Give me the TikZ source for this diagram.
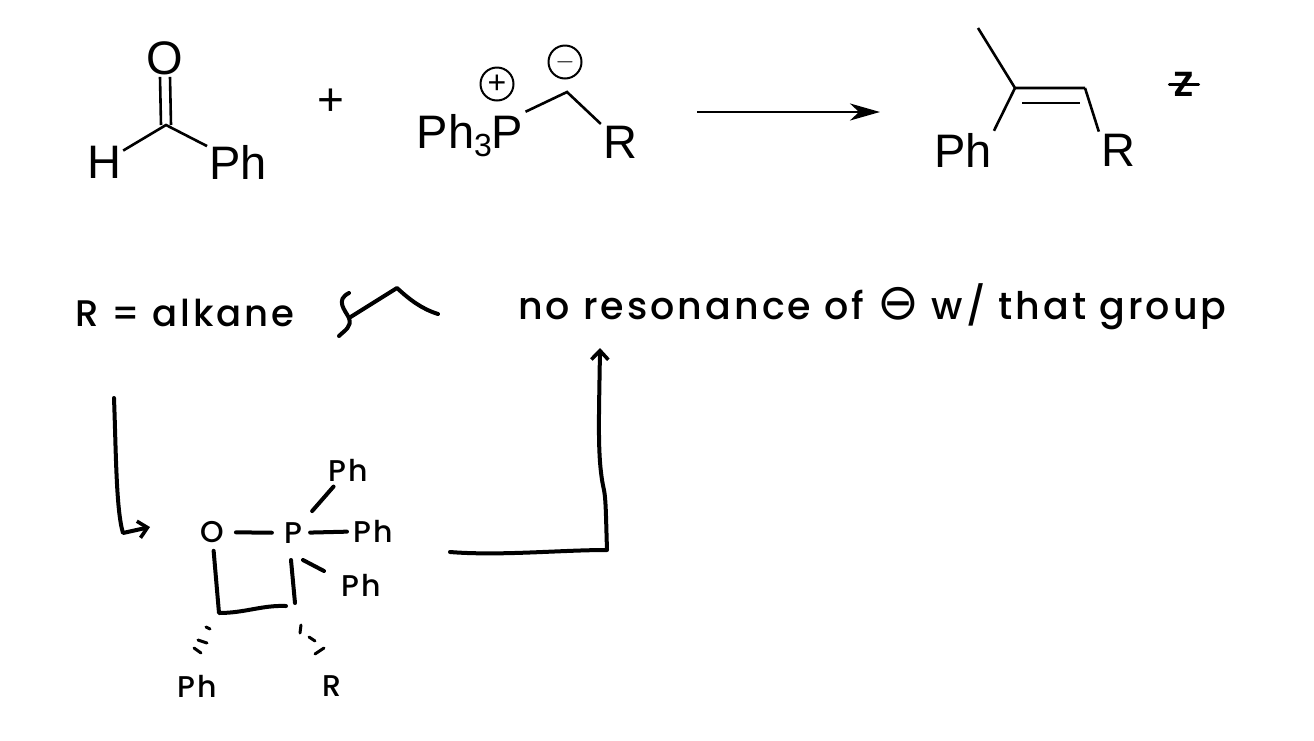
\documentclass[tikz,border=0pt]{standalone}
\usepackage{fontspec}
\setmainfont{Liberation Sans}
\newfontfamily\handfont[LetterSpace=8]{Poppins Medium}
\newfontfamily\handsym{DejaVu Sans}
\usetikzlibrary{positioning,arrows.meta}

\begin{document}
\begin{tikzpicture}[x=1pt, y=-1pt,
    chem atom/.style={inner sep=2pt, font=\fontsize{47}{50}\selectfont},
    bond/.style={draw, line width=2.6pt},
    charge/.style={draw, circle, line width=2pt, minimum size=33pt, inner sep=0pt, font=\fontsize{32}{34}\selectfont},
    hand text/.style={inner sep=0pt, anchor=base west, font=\handfont\fontsize{37}{40}\selectfont},
    hand small/.style={inner sep=3pt, font=\handfont\fontsize{30}{32}\selectfont},
    hand line/.style={draw, line width=4pt, line cap=round, line join=round},
    hand arrow/.style={hand line, -{Straight Barb[length=9pt, width=17pt, line width=3.6pt]}}]
    \useasboundingbox (0,0) rectangle (1314,740);

    \node[chem atom] (oxy) at (165,58) {O};
    \coordinate (cho) at (166,125);
    \node[chem atom] (hyd) at (104,162) {H};
    \node[chem atom] (phone) at (238,162) {Ph};
    \draw[bond] ([xshift=-5pt]oxy.south) -- ([xshift=-5pt]cho);
    \draw[bond] ([xshift=5pt]oxy.south) -- ([xshift=5pt]cho);
    \draw[bond] (hyd) -- (cho) -- (phone);
    \node[font=\fontsize{46}{48}\selectfont, inner sep=0pt] (plus) at (331,102) {+};

    \node[chem atom, anchor=base] (ylide) at (470,148) {Ph\raisebox{-8pt}{\fontsize{32}{34}\selectfont 3}P};
    \node[charge] (pos) at (497,84) {+};
    \node[charge] (neg) at (565,62) {$-$};
    \coordinate (cyl) at (567,92);
    \node[chem atom] (rone) at (620,142) {R};
    \draw[bond] (ylide.north east) -- (cyl) -- (rone);

    \coordinate (start) at (697,112);
    \coordinate (end) at (880,112);
    \draw[bond, -{Stealth[length=30pt, width=17pt, inset=9pt]}] (start) -- (end);

    \coordinate (cone) at (1015,88);
    \coordinate (ctwo) at (1085,88);
    \coordinate (methyl) at (978,28);
    \coordinate (inl) at (1022,103);
    \coordinate (inr) at (1080,103);
    \node[chem atom] (phtwo) at (963,150) {Ph};
    \node[chem atom] (rtwo) at (1118,150) {R};
    \draw[bond] (methyl) -- (cone) -- (ctwo);
    \draw[bond] (inl) -- (inr);
    \draw[bond] (cone) -- (phtwo.north east);
    \draw[bond] (ctwo) -- (rtwo.north west);
    \node[hand small, inner sep=4pt, font=\handfont\fontsize{44}{46}\selectfont] (zed) at (1184,84) {z};
    \draw[line width=3pt, line cap=round] (zed.west) -- (zed.east);

    \node[hand text] (rdef) at (75,326) {R = alkane};
    \coordinate (wava) at (349,293);
    \coordinate (wavb) at (339,336);
    \coordinate (chaina) at (349,318);
    \coordinate (chainb) at (397,288);
    \coordinate (chainc) at (438,314);
    \draw[hand line] (wava) .. controls (335,300) and (345,310) .. (chaina) .. controls (352,327) and (345,330) .. (wavb);
    \draw[hand line] (chaina) -- (chainb) .. controls (410,300) and (422,309) .. (chainc);
    \node[hand text, font=\handfont\fontsize{38}{40}\selectfont] (note) at (518,319) {no resonance of {\handsym\fontsize{50}{50}\selectfont\symbol{"2296}} w/ that group};

    \coordinate (downa) at (114,398);
    \coordinate (downb) at (123,533);
    \coordinate (downc) at (150,527);
    \draw[hand arrow] (downa) .. controls (116,450) and (116,510) .. (downb) -- (downc);

    \node[hand small] (ringo) at (212,532) {O};
    \node[hand small] (ringp) at (293,533) {P};
    \node[hand small] (phup) at (348,470) {Ph};
    \node[hand small] (phmid) at (373,531) {Ph};
    \node[hand small] (phlow) at (361,585) {Ph};
    \node[hand small] (phleft) at (197,686) {Ph};
    \node[hand small] (rlow) at (332,686) {R};
    \coordinate (cleft) at (219,613);
    \coordinate (cright) at (286,606);
    \coordinate (pbot) at (291,560);
    \coordinate (cbot) at (295,603);
    \coordinate (plowa) at (303,560);
    \coordinate (plowb) at (324,571);
    \draw[hand line, shorten <=9pt, shorten >=9pt] (ringo) -- (ringp);
    \draw[hand line, shorten <=11pt, shorten >=3pt] (ringp) -- (phup);
    \draw[hand line, shorten <=5pt, shorten >=3pt] (ringp) -- (phmid);
    \draw[hand line] (plowa) -- (plowb);
    \draw[hand line] (pbot) -- (cbot);
    \draw[hand line, shorten <=5pt] (ringo) -- (cleft) .. controls (245,613) and (262,605) .. (cright);
    \draw[hand line, line width=3pt] (206,627) -- (210,629);
    \draw[hand line, line width=3pt] (198,640) -- (207,643);
    \draw[hand line, line width=3pt] (194,648) -- (201,653);
    \draw[hand line, line width=3pt] (301,625) -- (300,633);
    \draw[hand line, line width=3pt] (309,637) -- (315,641);
    \draw[hand line, line width=3pt] (324,648) -- (315,654);

    \coordinate (upa) at (450,552);
    \coordinate (upb) at (607,550);
    \coordinate (upc) at (600,348);
    \draw[hand arrow] (upa) .. controls (500,556) and (560,550) .. (upb) .. controls (606,520) and (606,500) .. (604,490) .. controls (597,460) and (599,420) .. (upc);

\end{tikzpicture}
\end{document}
